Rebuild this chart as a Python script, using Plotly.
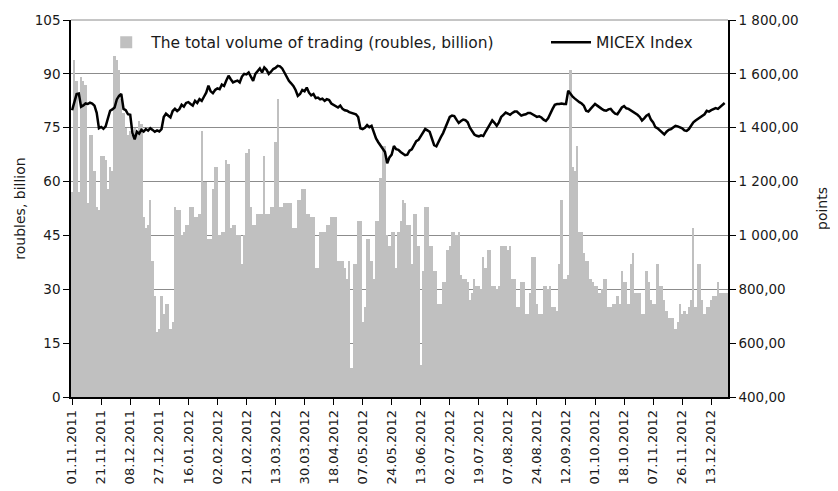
import plotly.graph_objects as go
from plotly.subplots import make_subplots

tick_labels = ["01.11.2011", "21.11.2011", "08.12.2011", "27.12.2011", "16.01.2012",
               "02.02.2012", "21.02.2012", "13.03.2012", "30.03.2012", "18.04.2012",
               "07.05.2012", "24.05.2012", "13.06.2012", "02.07.2012", "19.07.2012",
               "07.08.2012", "24.08.2012", "12.09.2012", "01.10.2012", "18.10.2012",
               "07.11.2012", "26.11.2012", "13.12.2012"]

volume = [
    57, 94, 88, 57, 89, 88, 87, 54, 73, 73, 63, 53, 52,
    67, 67, 66, 58, 64, 63, 95, 94, 91, 83, 79, 75, 73,
    74, 73, 75, 74, 77, 76, 50, 47, 48, 55, 38, 28, 18,
    19, 28, 23, 26, 26, 19, 21, 53, 52, 52, 45, 46, 48,
    48, 53, 53, 50, 50, 51, 74, 60, 60, 44, 44, 58, 64,
    64, 45, 46, 46, 66, 65, 47, 48, 48, 45, 45, 37, 45,
    68, 69, 53, 48, 48, 51, 51, 51, 67, 51, 51, 53, 53,
    71, 83, 53, 53, 54, 54, 54, 54, 47, 47, 55, 55, 58,
    58, 51, 51, 50, 50, 36, 36, 46, 46, 46, 48, 48, 50,
    50, 50, 38, 38, 38, 36, 33, 38, 8, 37, 37, 49, 49,
    21, 25, 44, 44, 38, 33, 49, 49, 61, 70, 70, 45, 42,
    46, 46, 36, 46, 49, 55, 54, 48, 48, 37, 51, 51, 42,
    9, 35, 53, 53, 42, 42, 35, 35, 26, 26, 32, 32, 41,
    42, 46, 46, 45, 46, 34, 33, 33, 32, 27, 29, 33, 31,
    31, 30, 39, 36, 41, 41, 31, 31, 30, 31, 42, 42, 42,
    41, 42, 33, 33, 25, 25, 32, 32, 23, 23, 29, 39, 39,
    26, 23, 23, 31, 31, 30, 31, 25, 25, 24, 37, 55, 33,
    33, 34, 91, 64, 63, 70, 46, 46, 40, 38, 38, 33, 32,
    31, 31, 29, 30, 33, 33, 25, 25, 26, 26, 28, 26, 35,
    32, 32, 26, 37, 40, 29, 29, 29, 23, 23, 35, 32, 27,
    26, 26, 37, 31, 31, 27, 24, 22, 22, 22, 19, 21, 26,
    23, 24, 23, 25, 27, 47, 25, 37, 37, 27, 23, 25, 25,
    27, 28, 28, 32, 29, 29, 29, 29,
]

micex = [
    1465, 1495, 1525, 1527, 1478, 1483, 1490, 1488, 1493, 1490, 1482, 1455, 1398,
    1403, 1396, 1405, 1430, 1463, 1468, 1475, 1505, 1518, 1525, 1470, 1465, 1450,
    1448, 1380, 1357, 1385, 1378, 1392, 1386, 1395, 1389, 1398, 1392, 1385, 1390,
    1386, 1395, 1440, 1452, 1445, 1438, 1462, 1470, 1462, 1469, 1485, 1478, 1492,
    1495, 1488, 1482, 1500, 1492, 1506, 1500, 1515, 1530, 1556, 1535, 1528, 1540,
    1546, 1543, 1560, 1555, 1575, 1593, 1580, 1568, 1572, 1575, 1568, 1590, 1600,
    1598, 1605, 1590, 1574, 1600, 1612, 1620, 1605, 1624, 1615, 1600, 1608, 1618,
    1622, 1630, 1628, 1620, 1605, 1590, 1574, 1565, 1555, 1540, 1518, 1525, 1540,
    1535, 1549, 1530, 1520, 1525, 1510, 1512, 1505, 1508, 1500, 1506, 1503, 1490,
    1485, 1478, 1475, 1482, 1470, 1465, 1463, 1458, 1455, 1452, 1450, 1440, 1398,
    1395, 1400, 1410, 1402, 1407, 1385, 1360, 1346, 1335, 1320, 1310, 1268, 1290,
    1300, 1332, 1320, 1318, 1310, 1305, 1298, 1300, 1315, 1320, 1335, 1350, 1355,
    1370, 1380, 1395, 1390, 1385, 1360, 1335, 1331, 1350, 1365, 1380, 1402, 1420,
    1440, 1445, 1443, 1430, 1418, 1425, 1430, 1428, 1420, 1400, 1385, 1375, 1370,
    1368, 1372, 1369, 1385, 1400, 1415, 1427, 1418, 1407, 1420, 1440, 1448, 1456,
    1452, 1448, 1455, 1460, 1460, 1452, 1445, 1448, 1450, 1455, 1455, 1450, 1445,
    1440, 1442, 1438, 1430, 1425, 1435, 1455, 1470, 1485, 1488, 1488, 1490, 1488,
    1488, 1537, 1525, 1515, 1508, 1500, 1495, 1490, 1482, 1463, 1460, 1470, 1478,
    1488, 1482, 1475, 1470, 1465, 1463, 1468, 1470, 1460, 1452, 1450, 1465, 1475,
    1480, 1472, 1470, 1465, 1460, 1455, 1448, 1440, 1427, 1435, 1445, 1450, 1430,
    1420, 1402, 1398, 1390, 1380, 1375, 1385, 1392, 1395, 1400, 1407, 1405, 1402,
    1398, 1390, 1388, 1395, 1410, 1420, 1427, 1432, 1440, 1445, 1450, 1463, 1460,
    1465, 1468, 1473, 1470, 1478, 1485, 1492,
]

left_ticks = [0, 15, 30, 45, 60, 75, 90, 105]
right_ticks = [400, 600, 800, 1000, 1200, 1400, 1600, 1800]
right_labels = ["400,00", "600,00", "800,00", "1 000,00", "1 200,00", "1 400,00", "1 600,00", "1 800,00"]

n = len(volume)
xs = list(range(n))
label_step = 13
label_pos = [i * label_step for i in range(len(tick_labels))]

FONT = "DejaVu Sans"
TXT = "#1a1a1a"

fig = make_subplots(specs=[[{"secondary_y": True}]])
fig.add_trace(go.Bar(x=xs, y=volume, name="The total volume of trading (roubles, billion)",
                     marker=dict(color="#C0C0C0", line=dict(width=0)), legend="legend"),
              secondary_y=False)
fig.add_trace(go.Scatter(x=xs[:len(micex)], y=micex, name="MICEX Index", mode="lines",
                         line=dict(color="black", width=2.5), legend="legend2"),
              secondary_y=True)

# the page body adds an 8px offset, so the figure is drawn 8px smaller with margins adjusted
fig.update_layout(
    width=830, height=483,
    margin=dict(l=63, r=110, t=12, b=94, autoexpand=False),
    paper_bgcolor="white", plot_bgcolor="white",
    bargap=0,
    font=dict(family=FONT, size=13, color=TXT),
    showlegend=True,
    legend=dict(orientation="h", x=0.046, y=0.94, xanchor="left", yanchor="middle",
                bgcolor="rgba(255,255,255,0)", font=dict(family=FONT, size=15.5, color=TXT),
                itemwidth=40),
    legend2=dict(orientation="h", x=0.723, y=0.94, xanchor="left", yanchor="middle",
                 bgcolor="rgba(255,255,255,0)", font=dict(family=FONT, size=15.5, color=TXT),
                 itemwidth=40),
    shapes=[dict(type="line", xref="paper", yref="paper", x0=0, x1=1, y0=1, y1=1,
                 line=dict(color="#8c8c8c", width=1), layer="below")],
)
fig.update_xaxes(domain=[0, 1], range=[-0.5, n - 0.5], tickmode="array", tickvals=label_pos,
                 ticktext=tick_labels, tickangle=-90, showline=True, linecolor="black", linewidth=1.5,
                 automargin=False, ticks="outside", ticklen=6, tickcolor="black", showgrid=False,
                 zeroline=False, tickfont=dict(family=FONT, size=13, color=TXT))
fig.update_yaxes(range=[0, 105], tickmode="array", tickvals=left_ticks, automargin=False,
                 showline=True, linecolor="black", linewidth=1.5, ticks="outside", ticklen=6,
                 tickcolor="black", showgrid=True, gridcolor="#8c8c8c", gridwidth=1, zeroline=False,
                 title=dict(text="roubles, billion", standoff=6, font=dict(family=FONT, size=14, color=TXT)),
                 tickfont=dict(family=FONT, size=13.5, color=TXT), secondary_y=False)
fig.update_yaxes(range=[400, 1800], tickmode="array", tickvals=right_ticks, ticktext=right_labels,
                 showline=True, linecolor="black", linewidth=1.5, ticks="outside", ticklen=6,
                 tickcolor="black", showgrid=False, zeroline=False, automargin=False,
                 title=dict(text="points", standoff=20, font=dict(family=FONT, size=14, color=TXT)),
                 tickfont=dict(family=FONT, size=13.5, color=TXT), secondary_y=True)

fig.write_html("out.html")
